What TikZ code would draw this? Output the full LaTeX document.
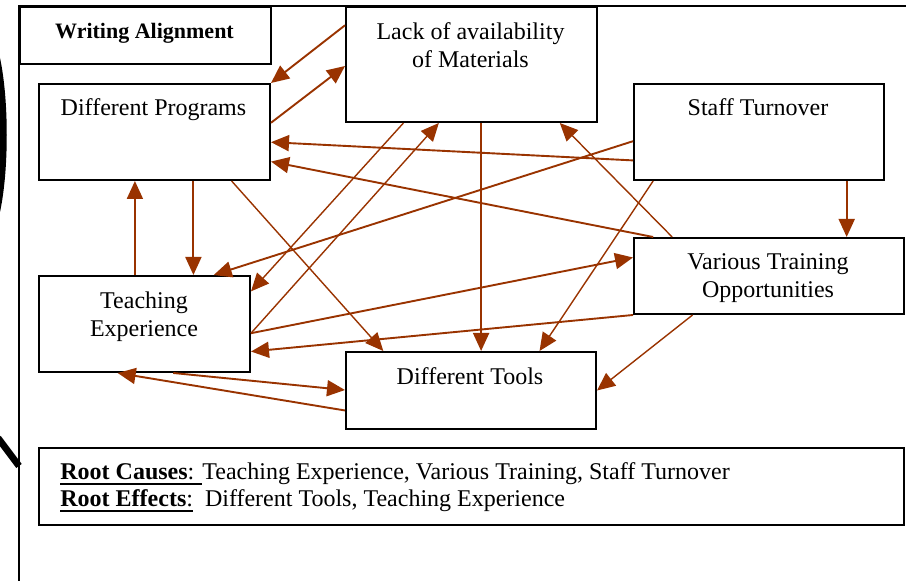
\documentclass[tikz,border=0pt]{standalone}
\usepackage{fontspec}
\setmainfont{Liberation Serif}
\usepackage{tikz}
\usetikzlibrary{positioning, arrows.meta, calc}

\definecolor{linkbrown}{RGB}{153,51,0}
\newcommand{\pxu}{0.5pt}
% heavy underline as in the source
\newcommand{\rootul}[1]{\setbox0\hbox{#1}\rlap{\rule[-2.6pt]{\wd0}{1.1pt}}\box0}

\tikzset{
  box/.style={draw, line width=1pt, anchor=north west, inner sep=0pt},
  boxtext/.style={anchor=north, align=center, inner sep=0pt, font=\fontsize{12}{14}\selectfont},
  link/.style={draw=linkbrown, line width=0.95pt, -{Triangle[length=9pt, width=8pt]}},
  thinlink/.style={link, line width=0.7pt}
}

\begin{document}
\begin{tikzpicture}[x=0.5pt, y=-0.5pt]
    \useasboundingbox (0,0) rectangle (906,581);

    % Marks at the left edge
    \fill (0,58) .. controls (9,100) and (9,170) .. (0,212) -- cycle;
    \draw[line width=3.4pt] (-2,438) -- (19,466);

    % Frame
    \draw[line width=1pt] (19,581) -- (19,6) -- (906,6);

    % Boxes
    \foreach \n/\x/\y/\w/\h in {wa/19/6/251/57, lack/345/6/251/115, dp/38/83/231/96,
        staff/633/83/250/96, vt/633/237/270/76, te/38/275/211/96, dt/345/351/250/77,
        root/38/447/865/77} {
      \node[box, minimum width=\w*\pxu, minimum height=\h*\pxu] (\n) at (\x,\y) {};
    }

    % Box texts
    \node[boxtext, font=\bfseries\fontsize{11}{13}\selectfont] (watext) at (144.5,22.5) {Writing Alignment};
    \foreach \n/\x/\y/\t in {lack/470.5/22.5/{Lack of availability\\of Materials},
        dp/153.5/98.5/{Different Programs}, staff/758/98.5/{Staff Turnover},
        vt/768/253.5/{Various Training\\Opportunities}, te/144/291.5/{Teaching\\Experience},
        dt/470/367.5/{Different Tools}} {
      \node[boxtext] (\n text) at (\x,\y) {\t};
    }
    \node[boxtext, anchor=north west, align=left, font=\fontsize{12}{13.5}\selectfont] (roottext) at (60,462.5)
      {\rootul{\textbf{Root Causes}: }Teaching Experience, Various Training, Staff Turnover\\
       \rootul{\textbf{Root Effects}:}\ \ Different Tools, Teaching Experience};

    % Connectors
    \draw[link] ($(lack.north west)!.165!(lack.south west)$) -- (dp.north east);
    \draw[link] ($(dp.north east)!.406!(dp.south east)$) -- ($(lack.north west)!.513!(lack.south west)$);
    \draw[link] ($(staff.north west)!.79!(staff.south west)$) -- ($(dp.north east)!.604!(dp.south east)$);
    \draw[link] ($(vt.north west)!.074!(vt.north east)$) -- ($(dp.north east)!.802!(dp.south east)$);
    \draw[thinlink] ($(vt.north west)!.144!(vt.north east)$) -- ($(lack.south west)!.849!(lack.south east)$);
    \draw[link] ($(staff.north west)!.594!(staff.south west)$) -- ($(te.north west)!.825!(te.north east)$);
    \draw[thinlink] ($(staff.south west)!.08!(staff.south east)$) -- ($(dt.north west)!.772!(dt.north east)$);
    \draw[link] ($(staff.south west)!.848!(staff.south east)$) coordinate (s1) -- (s1 |- vt.north);
    \draw[link] ($(te.north east)!.594!(te.south east)$) -- ($(vt.north west)!.263!(vt.south west)$);
    \draw[link] (vt.south west) -- ($(te.north east)!.781!(te.south east)$);
    \draw[thinlink] ($(vt.south west)!.219!(vt.south east)$) -- (dt.east);
    \draw[thinlink] ($(lack.south west)!.231!(lack.south east)$) -- ($(te.north east)!.167!(te.south east)$);
    \draw[thinlink] ($(te.north east)!.594!(te.south east)$) -- ($(lack.south west)!.371!(lack.south east)$);
    \draw[link] ($(lack.south west)!.538!(lack.south east)$) coordinate (l1) -- (l1 |- dt.north);
    \draw[thinlink] ($(dp.south west)!.831!(dp.south east)$) -- ($(dt.north west)!.152!(dt.north east)$);
    \draw[link] ($(dp.south west)!.667!(dp.south east)$) coordinate (d1) -- (d1 |- te.north);
    \draw[link] ($(te.north west)!.455!(te.north east)$) coordinate (t1) -- (t1 |- dp.south);
    \draw[link] ($(te.south west)!.635!(te.south east)$) -- ($(dt.north west)!.494!(dt.south west)$);
    \draw[link] ($(dt.north west)!.753!(dt.south west)$) -- ($(te.south west)!.374!(te.south east)$);

\end{tikzpicture}
\end{document}
